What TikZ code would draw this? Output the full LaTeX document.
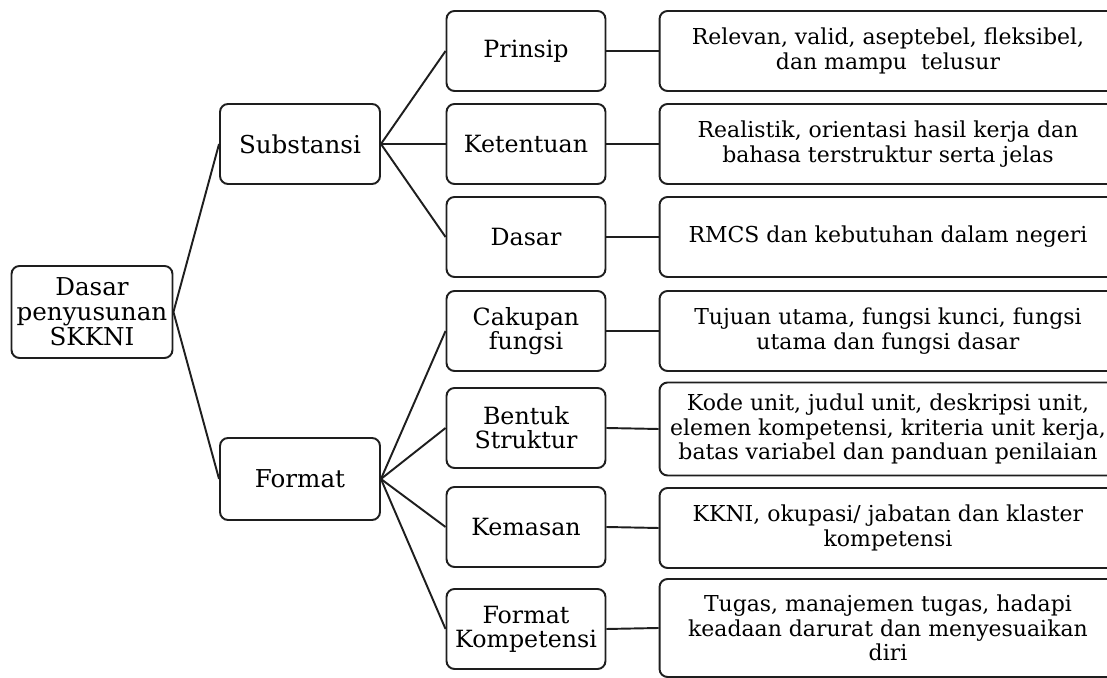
\documentclass[tikz,border=0pt]{standalone}
\usepackage{fontspec}
\setmainfont{DejaVu Serif}
\usepackage{xcolor}
\usetikzlibrary{positioning}
\definecolor{linegray}{HTML}{1E1E1E}

\begin{document}
\begin{tikzpicture}[x=0.02cm, y=-0.02cm,
    bx/.style={draw=linegray, rounded corners=0.16cm, line width=1.1pt, align=center, inner sep=1pt},
    lv1/.style={bx, minimum width=3.2cm, minimum height=1.6cm, font=\fontsize{14}{14.2}\selectfont},
    lv2/.style={bx, minimum width=3.18cm, minimum height=1.6cm, font=\fontsize{13.5}{13.8}\selectfont},
    ds/.style={bx, minimum width=9.14cm, minimum height=1.6cm, inner ysep=5pt, font=\fontsize{12.5}{13.8}\selectfont},
    cn/.style={linegray, line width=1.1pt}]
    \useasboundingbox (0,0) rectangle (1107,678);
    \clip (0,0) rectangle (1107,678);
    \node[lv1, minimum width=3.22cm, minimum height=1.84cm] (root) at (92,312) {Dasar\\penyusunan\\SKKNI};
    \node[lv1] (sub) at (300,144) {Substansi};
    \node[lv1, minimum height=1.64cm] (fmt) at (300,479) {Format};
    % level 2
    \node[lv2] (prin) at (526,51) {Prinsip};
    \node[lv2] (ket) at (526,144) {Ketentuan};
    \node[lv2] (das) at (526,237) {Dasar};
    \node[lv2] (cak) at (526,331) {Cakupan\\fungsi};
    \node[lv2] (ben) at (526,428) {Bentuk\\Struktur};
    \node[lv2] (kem) at (526,527) {Kemasan};
    \node[lv2] (fko) at (526,629) {Format\\Kompetensi};
    % descriptions
    \node[ds] (prinR) at (888,51) {Relevan, valid, aseptebel, fleksibel,\\dan mampu\ \ telusur};
    \node[ds] (ketR) at (888,144) {Realistik, orientasi hasil kerja dan\\bahasa terstruktur serta jelas};
    \node[ds] (dasR) at (888,237) {RMCS dan kebutuhan dalam negeri};
    \node[ds] (cakR) at (888,331) {Tujuan utama, fungsi kunci, fungsi\\utama dan fungsi dasar};
    \node[ds, minimum height=1.86cm] (benR) at (888,429) {Kode unit, judul unit, deskripsi unit,\\elemen kompetensi, kriteria unit kerja,\\batas variabel dan panduan penilaian};
    \node[ds] (kemR) at (888,528) {KKNI, okupasi/ jabatan dan klaster\\kompetensi};
    \node[ds, minimum height=1.96cm] (fkoR) at (888,628) {Tugas, manajemen tugas, hadapi\\keadaan darurat dan menyesuaikan\\diri};
    % connectors
    \draw[cn] (root.east)--(sub.west);
    \draw[cn] (root.east)--(fmt.west);
    \draw[cn] (sub.east)--(prin.west);
    \draw[cn] (sub.east)--(ket.west);
    \draw[cn] (sub.east)--(das.west);
    \draw[cn] (fmt.east)--(cak.west);
    \draw[cn] (fmt.east)--(ben.west);
    \draw[cn] (fmt.east)--(kem.west);
    \draw[cn] (fmt.east)--(fko.west);
    \draw[cn] (prin.east)--(prinR.west);
    \draw[cn] (ket.east)--(ketR.west);
    \draw[cn] (das.east)--(dasR.west);
    \draw[cn] (cak.east)--(cakR.west);
    \draw[cn] (ben.east)--(benR.west);
    \draw[cn] (kem.east)--(kemR.west);
    \draw[cn] (fko.east)--(fkoR.west);
\end{tikzpicture}
\end{document}
